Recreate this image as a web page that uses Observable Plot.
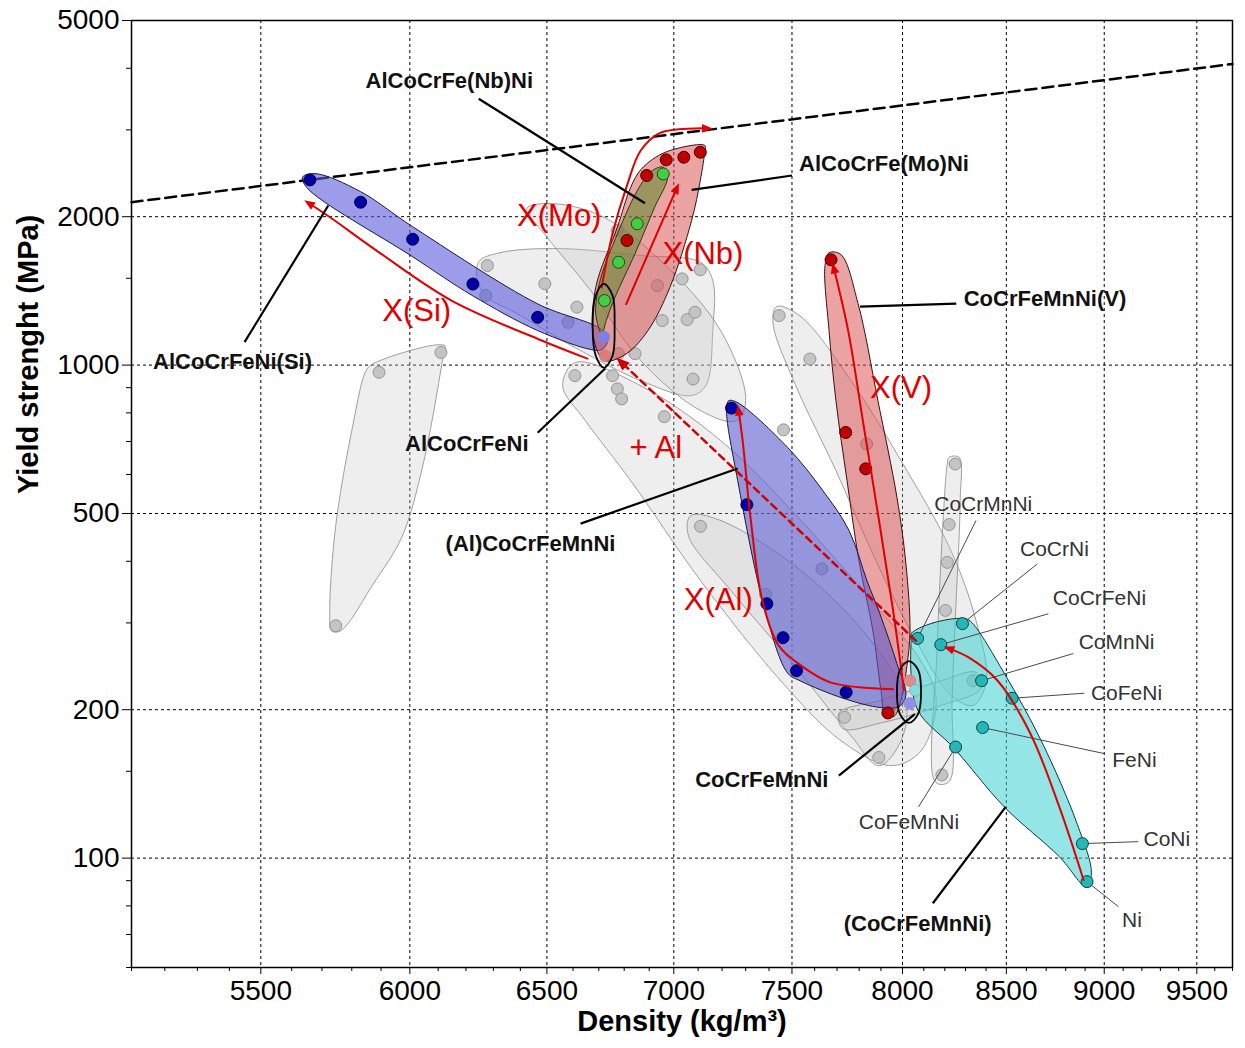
<!DOCTYPE html>
<html>
<head>
<meta charset="utf-8">
<script src="https://cdn.jsdelivr.net/npm/d3@7"></script>
<script src="https://cdn.jsdelivr.net/npm/@observablehq/plot@0.6"></script>
<style>
  body { margin: 0; background: #fff; }
  svg { display: block; }
</style>
</head>
<body>
<div id="chart"></div>
<script>
// ---------- axes ----------
const densityTicks = [5500, 6000, 6500, 7000, 7500, 8000, 8500, 9000, 9500];
const densityMinor = d3.range(5100, 9701, 100).filter(v => !densityTicks.includes(v));
const strengthTicks = [100, 200, 500, 1000, 2000, 5000];
const strengthMinor = [60, 70, 80, 90, 150, 300, 400, 600, 700, 800, 900, 1500, 3000, 4000];

// ---------- performance limit (dashed) : [density, yield strength] ----------
const limitLine = [[5100, 2140], [9700, 4080]];

// ---------- other alloy families (grey envelopes) ----------
const grayLeft = [[5872,1006],[6123,1096],[6117,1037],[6047,630],[5972,448],[5872,359],[5762,289],[5732,289],[5726,313],[5744,462],[5800,736],[5849,975]];
const grayTall = [[8221,650],[8269,650],[8274,531],[8250,303],[8235,209],[8226,144],[8182,141],[8149,144],[8163,264],[8192,484],[8211,625]];
const grayA = [[6245,1615],[6326,1691],[6552,1723],[6866,1668],[7111,1615],[7161,1484],[7161,1175],[7132,908],[7069,867],[6866,930],[6629,1070],[6401,1260],[6260,1404]];
const grayB = [[6424,2077],[6514,2127],[6707,2010],[6946,1630],[7194,1175],[7300,847],[7257,771],[7111,808],[6866,1021],[6668,1417],[6495,1832]];
const grayC = [[6609,1012],[6866,908],[7194,703],[7539,484],[7854,333],[8087,251],[8159,209],[8087,165],[7947,154],[7718,173],[7451,229],[7111,365],[6826,583],[6648,771],[6560,908]];
const grayD = [[7434,1315],[7539,1254],[7763,930],[7993,640],[8230,420],[8351,303],[8401,229],[8337,204],[8230,214],[8063,276],[7877,401],[7695,611],[7517,908],[7417,1220]];
const grayE = [[7069,495],[7194,484],[7539,383],[7854,276],[8016,209],[7993,173],[7891,154],[7763,177],[7495,251],[7237,349],[7060,451]];
const grayF = [[7709,197],[7900,209],[8182,229],[8351,238],[8376,221],[8182,204],[7900,188],[7727,183]];
const grayPoints = [
  [6278,1592],[6272,1384],[6492,1462],[6581,1221],[6615,1311],[6953,1231],[6933,1450],[7034,1496],
  [7109,1561],[7055,1237],[7087,1280],[6773,1875],[6607,952],[6754,952],[6777,1055],[6843,1055],
  [6773,895],[6790,854],[7079,937],[6961,786],[7444,1260],[7579,1029],[7463,739],[7834,692],
  [7110,471],[7632,386],[7385,343],[7734,193],[7890,160],[8337,229],
  [5893,967],[6110,1061],[5746,296],
  [8250,630],[8221,475],[8212,398],[8203,318],[8186,147.5]
];

// ---------- AlCoCrFeNi(Si) ----------
const siOutline = [[5636,2407],[5680,2445],[5829,2250],[6009,1910],[6465,1331],[6712,1180],[6735,1122],[6712,1075],[6671,1075],[6465,1175],[6223,1384],[6009,1660],[5650,2290]];
const siPoints = [[5660,2375],[5830,2140],[6010,1800],[6225,1460],[6465,1250]];

// ---------- AlCoCrFe(Mo)Ni ----------
const moOutline = [[7128,2790],[7128,2724],[7109,2368],[7073,1964],[6984,1438],[6895,1175],[6808,1054],[6722,1021],[6679,1139],[6688,1438],[6773,1904],[6826,2295],[6869,2500],[6966,2703]];
const moPoints = [[6890,2424],[6969,2608],[7041,2640],[7109,2703],[6811,1790]];

// ---------- AlCoCrFe(Nb)Ni ----------
const nbOutline = [[6957,2520],[6975,2407],[6922,2090],[6843,1682],[6764,1374],[6729,1231],[6712,1157],[6688,1270],[6705,1484],[6773,1845],[6860,2295],[6913,2481]];
const nbPoints = [[6957,2442],[6852,1935],[6778,1617],[6722,1352]];

// ---------- CoCrFeMnNi(V) ----------
const vOutline = [[7664,1690],[7718,1675],[7795,1333],[7886,847],[7974,539],[8016,395],[8035,289],[8021,246],[7993,209],[7961,194],[7923,194],[7900,219],[7863,289],[7799,401],[7745,583],[7695,847],[7664,1175],[7646,1592]];
const vPoints = [[7673,1635],[7739,730],[7830,616],[7932,197]];

// ---------- (Al)CoCrFeMnNi ----------
const alOutline = [[7228,847],[7266,839],[7482,680],[7637,556],[7754,462],[7836,365],[7895,313],[7974,248],[8016,214],[7984,203],[7900,202],[7727,211],[7535,229],[7482,237],[7387,313],[7266,583],[7219,808]];
const alPoints = [[7240,818],[7305,521],[7391,328],[7461,280],[7520,240],[7741,217]];

// ---------- sub-systems of CoCrFeMnNi ----------
const subOutline = [[8040,285],[8144,300],[8298,306],[8332,300],[8490,237],[8675,173],[8860,117],[8933,93.3],[8907,87.4],[8767,100.7],[8490,127],[8245,167],[8073,199],[8040,237],[8040,276]];
const subNames    = ["CoCrMnNi","CoCrNi","CoCrFeNi","CoMnNi","CoFeNi","FeNi","CoFeMnNi","CoNi","Ni"];
const subDensity  = [8071, 8285, 8181, 8378, 8529, 8383, 8252, 8886, 8910];
const subStrength = [279, 299, 271, 229, 211, 184, 168, 107, 89.6];
const subLabelDensity  = [8386, 8742, 8975, 9065, 9118, 9160, 8030, 9335, 9147];
const subLabelStrength = [523, 424, 336, 274, 216, 158, 118, 109, 74.9];
const subLeaderDensity  = [8351, 8655, 8711, 8839, 8896, 8999, 8075, 9180, 9075];
const subLeaderStrength = [484, 395, 313, 260, 216, 163, 127, 108, 79.7];

// base alloys sitting inside the two ellipses (seen through the envelopes)
const baseDensity  = [6720, 6725, 8034, 8060, 8034];
const baseStrength = [1140, 1045, 229, 219, 206];
const baseColor    = ["#7d7df0", "#e07a7a", "#e08a8a", "#7fdede", "#8f8ff0"];

// ---------- outlined base compositions ----------
const ellipseAlCoCrFeNi = [[6720,1462],[6754,1384],[6762,1203],[6754,1045],[6720,988],[6688,1045],[6676,1203],[6688,1384]];
const ellipseCoCrFeMnNi = [[8030,251],[8073,241],[8087,218],[8073,196],[8030,188],[7988,196],[7974,218],[7988,241]];

// ---------- composition trends ----------
const moTrend  = [[6711,1436],[6754,1848],[6811,2313],[6866,2724],[6946,2962],[7136,3020]];
const nbTrend  = [[6808,1330],[7011,2280]];
const siTrend  = [[6656,1031],[6480,1122],[6148,1352],[5897,1687],[5728,1992],[5658,2127]];
const vTrend   = [[8007,219],[7956,318],[7891,484],[7817,771],[7750,1175],[7686,1570]];
const alTrend  = [[7956,220],[7673,227],[7539,246],[7442,270],[7371,333],[7322,484],[7287,703],[7270,808]];
const subTrend = [[8892,90.3],[8767,127],[8620,179],[8457,229],[8317,255],[8221,266]];
const addAl    = [[8063,276],[6790,1012]];

// ---------- labels (centred) ----------
const familyNames    = ["AlCoCrFe(Nb)Ni","AlCoCrFe(Mo)Ni","CoCrFeMnNi(V)","AlCoCrFeNi(Si)","AlCoCrFeNi","(Al)CoCrFeMnNi","CoCrFeMnNi","(CoCrFeMnNi)"];
const familyDensity  = [6140, 7914, 8694, 5410, 6203, 6438, 7369, 8071];
const familyStrength = [3778, 2560, 1363, 1013, 692, 434, 144, 73.7];
// leader lines: label end -> envelope
const familyLeaderFrom = [[6246,3470],[7500,2424],[8255,1333],[5448,1113],[6465,729],[6629,477],[7708,147],[8143,81]];
const familyLeaderTo   = [[6883,2130],[7073,2267],[7804,1314],[5721,2107],[6725,984],[7266,617],[8058,196],[8497,127]];

const trendNames    = ["X(Mo)","X(Nb)","X(Si)","X(V)","X(Al)","+ Al"];
const trendDensity  = [6547, 7120, 6024, 7993, 7184, 6927];
const trendStrength = [2010, 1682, 1290, 900, 333, 680];

// ---------- drawing ----------
const XY = {x: d => d[0], y: d => d[1]};
const RED = "#e00000";

function filledHead(color, context) {
  const doc = (context && context.document) || document;
  const ns = "http://www.w3.org/2000/svg";
  const m = doc.createElementNS(ns, "marker");
  m.setAttribute("viewBox", "-5 -5 10 10");
  m.setAttribute("markerWidth", 6);
  m.setAttribute("markerHeight", 6);
  m.setAttribute("orient", "auto");
  const p = doc.createElementNS(ns, "path");
  p.setAttribute("d", "M-4,-3.6L5,0L-4,3.6Z");
  p.setAttribute("fill", color);
  p.setAttribute("stroke", "none");
  m.appendChild(p);
  return m;
}

const envelope = (pts, fill, opacity, stroke, strokeOpacity = 1) =>
  Plot.line(pts, {...XY, curve: "catmull-rom-closed", fill, fillOpacity: opacity,
                  stroke, strokeOpacity, strokeWidth: 1});
const dots = (pts, fill, stroke) =>
  Plot.dot(pts, {...XY, r: 6, fill, stroke, strokeWidth: 1});
const trend = (pts, extra = {}) =>
  Plot.line(pts, {...XY, curve: "catmull-rom", stroke: RED, strokeWidth: 2,
                  markerEnd: filledHead, ...extra});

const GRAY_FILL = "#c8c8c8", GRAY_LINE = "#8a8a8a";
const subIdx = d3.range(subNames.length);
const famIdx = d3.range(familyNames.length);

const chart = Plot.plot({
  width: 1245,
  height: 1048,
  marginLeft: 131,
  marginRight: 13,
  marginTop: 20,
  marginBottom: 81,
  style: {fontFamily: "'Liberation Sans', Arial, Helvetica, sans-serif", background: "#fff", color: "#000"},
  x: {type: "log", domain: [5100, 9700]},
  y: {type: "log", domain: [60, 5000]},
  marks: [
    Plot.gridX(densityTicks, {stroke: "#000", strokeOpacity: 1, strokeWidth: 1, strokeDasharray: "3,3"}),
    Plot.gridY(strengthTicks, {stroke: "#000", strokeOpacity: 1, strokeWidth: 1, strokeDasharray: "3,3"}),

    Plot.line(limitLine, {...XY, stroke: "#000", strokeWidth: 2.5, strokeDasharray: "11,6"}),

    envelope(grayLeft, GRAY_FILL, 0.3, GRAY_LINE, 0.8),
    envelope(grayA, GRAY_FILL, 0.3, GRAY_LINE, 0.8),
    envelope(grayB, GRAY_FILL, 0.3, GRAY_LINE, 0.8),
    envelope(grayC, GRAY_FILL, 0.3, GRAY_LINE, 0.8),
    envelope(grayD, GRAY_FILL, 0.3, GRAY_LINE, 0.8),
    envelope(grayE, GRAY_FILL, 0.3, GRAY_LINE, 0.8),
    envelope(grayF, GRAY_FILL, 0.3, GRAY_LINE, 0.8),
    envelope(grayTall, GRAY_FILL, 0.3, GRAY_LINE, 0.8),
    Plot.dot(grayPoints, {...XY, r: 6, fill: "#c4c4c4", stroke: "#959595", strokeWidth: 1}),

    envelope(siOutline, "#5a5adc", 0.6, "#1a1a3a"),
    envelope(vOutline, "#d84848", 0.5, "#3a1010"),
    envelope(alOutline, "#5a5ad0", 0.6, "#1a1a3a"),
    envelope(subOutline, "#3ccfcf", 0.55, "#103a3a"),
    envelope(moOutline, "#d84848", 0.5, "#3a1010"),
    envelope(nbOutline, "#5c8a28", 0.55, "#2a3a10"),

    Plot.link(subIdx, {x1: i => subLeaderDensity[i], y1: i => subLeaderStrength[i],
                       x2: i => subDensity[i], y2: i => subStrength[i],
                       stroke: "#4a4a4a", strokeWidth: 1}),

    Plot.dot(d3.range(baseDensity.length), {x: i => baseDensity[i], y: i => baseStrength[i], r: 6,
                       fill: i => baseColor[i], stroke: "#9090a0", strokeWidth: 1, strokeOpacity: 0.6}),
    dots(siPoints, "#0000a8", "#000040"),
    dots(vPoints, "#c00000", "#400000"),
    dots(alPoints, "#0000a8", "#000040"),
    Plot.dot(subIdx, {x: i => subDensity[i], y: i => subStrength[i], r: 6,
                      fill: "#22b8b8", stroke: "#0a4040", strokeWidth: 1}),
    dots(moPoints, "#c00000", "#400000"),
    dots(nbPoints, "#44cc44", "#145014"),

    trend(moTrend),
    trend(nbTrend),
    trend(siTrend),
    trend(vTrend),
    trend(alTrend),
    trend(subTrend),
    trend(addAl, {curve: "linear", strokeWidth: 2.5, strokeDasharray: "7,5", stroke: "#d00000"}),

    Plot.line(ellipseAlCoCrFeNi, {...XY, curve: "catmull-rom-closed", stroke: "#000", strokeWidth: 1.8}),
    Plot.line(ellipseCoCrFeMnNi, {...XY, curve: "catmull-rom-closed", stroke: "#000", strokeWidth: 1.8}),

    Plot.link(famIdx, {x1: i => familyLeaderFrom[i][0], y1: i => familyLeaderFrom[i][1],
                       x2: i => familyLeaderTo[i][0], y2: i => familyLeaderTo[i][1],
                       stroke: "#000", strokeWidth: 2.2}),

    Plot.text(famIdx, {x: i => familyDensity[i], y: i => familyStrength[i], text: i => familyNames[i],
                       fontSize: 22, fontWeight: "bold", fill: "#111"}),
    Plot.text(d3.range(trendNames.length), {x: i => trendDensity[i], y: i => trendStrength[i],
                       text: i => trendNames[i], fontSize: 31, fill: RED}),
    Plot.text(subIdx, {x: i => subLabelDensity[i], y: i => subLabelStrength[i], text: i => subNames[i],
                       fontSize: 21, fill: "#333"}),

    Plot.axisX(densityMinor, {tickSize: 4, tickFormat: () => "", label: null}),
    Plot.axisX(densityTicks, {tickSize: 7, tickPadding: 6, tickFormat: d => String(d), fontSize: 28, label: null}),
    Plot.axisY(strengthMinor, {tickSize: 5, tickFormat: () => "", label: null}),
    Plot.axisY(strengthTicks, {tickSize: 9, tickPadding: 3, tickFormat: d => String(d), fontSize: 28, label: null}),

    Plot.text(["Density (kg/m³)"], {frameAnchor: "bottom", dy: 63, fontSize: 29, fontWeight: "bold"}),
    Plot.text(["Yield strenght (MPa)"], {frameAnchor: "left", dx: -103, rotate: -90, fontSize: 29, fontWeight: "bold"}),

    Plot.frame({stroke: "#000", strokeWidth: 1.5})
  ]
});

document.getElementById("chart").append(chart);
</script>
</body>
</html>
